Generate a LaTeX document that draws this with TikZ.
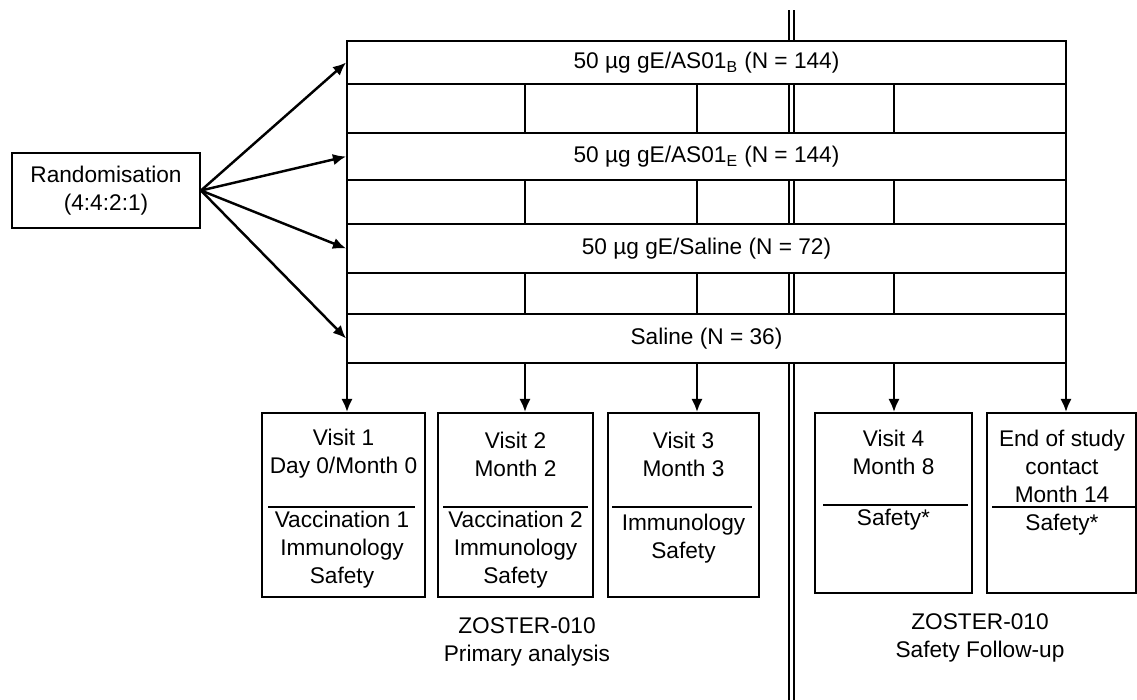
\documentclass[tikz,border=0pt]{standalone}
\usepackage{fontspec}
\setmainfont{Liberation Sans}
\usetikzlibrary{arrows.meta,positioning}

\begin{document}
\begin{tikzpicture}[x=0.02cm, y=-0.02cm, line width=1.1pt,
	every node/.style={font=\fontsize{12.9}{15.9}\selectfont, align=center, inner sep=0pt},
	armrow/.style={draw, fill=white, minimum width=14.38cm},
	visitbox/.style={draw, minimum width=#1},
	arr/.style={line width=1.4pt, -{Latex[length=7.5pt,width=6.5pt]}}]
	\useasboundingbox (0,0) rectangle (1137,700);
	% split between primary analysis and follow-up
	\draw[double, double distance=2pt, line width=1.2pt] (791.5,10) -- (791.5,700);
	\draw (347,41) rectangle (1066,363);
	% arms
	\node[armrow, minimum height=0.86cm] (arm1) at (706.5,62.5) {50 µg gE/AS01\textsubscript{B} (N = 144)};
	\node[armrow, minimum height=0.94cm] (arm2) at (706.5,156.5) {50 µg gE/AS01\textsubscript{E} (N = 144)};
	\node[armrow, minimum height=0.98cm] (arm3) at (706.5,248.5) {50 µg gE/Saline (N = 72)};
	\node[armrow, minimum height=0.98cm] (arm4) at (706.5,338.5) {Saline (N = 36)};
	\foreach \ya/\yb in {84/133,180/224,273/314}
		\foreach \x in {525,697,894}
			\draw (\x,\ya) -- (\x,\yb);
	\node[draw, minimum width=3.76cm, minimum height=1.5cm] (rand) at (106,190.5) {Randomisation\\(4:4:2:1)};
	\foreach \i in {1,...,4}
		\draw[arr] (rand.east) -- (arm\i.west);
	% visits
	\node[visitbox=3.26cm, minimum height=3.68cm] (v1) at (343.5,505) {};
	\node[visitbox=3.10cm, minimum height=3.68cm] (v2) at (515.5,505) {};
	\node[visitbox=3.02cm, minimum height=3.68cm] (v3) at (683.5,505) {};
	\node[visitbox=3.14cm, minimum height=3.60cm] (v4) at (893.5,503) {};
	\node[visitbox=2.98cm, minimum height=3.60cm] (v5) at (1061.5,503) {};
	\coordinate (g1) at (347,363);
	\coordinate (g2) at (525,363);
	\coordinate (g3) at (697,363);
	\coordinate (g4) at (894,363);
	\coordinate (g5) at (1066,363);
	\foreach \i in {1,...,5}
		\draw[arr] (g\i) -- (g\i |- v\i.north);
	\node (v1a) at (343.5,454) {Visit 1\\Day 0/Month 0};
	\node (v1b) at (342,550) {Vaccination 1\\Immunology\\Safety};
	\draw (268,507) -- (415,507);
	\node (v2a) at (515.5,454) {Visit 2\\Month 2};
	\node (v2b) at (515.5,550) {Vaccination 2\\Immunology\\Safety};
	\draw (443,507) -- (588,507);
	\node (v3a) at (683.5,454) {Visit 3\\Month 3};
	\node (v3b) at (683.5,539) {Immunology\\Safety};
	\draw (612,507) -- (752,507);
	\node (v4a) at (893.5,452) {Visit 4\\Month 8};
	\node (v4b) at (893.5,520) {Safety*};
	\draw (823,505) -- (968,505);
	\node (v5a) at (1062,466) {End of study\\contact\\Month 14};
	\node (v5b) at (1062,525) {Safety*};
	\draw (992,507) -- (1137,507);
	% study phases
	\node (prim) at (527,642) {ZOSTER-010\\Primary analysis};
	\node (fup) at (980,638) {ZOSTER-010\\Safety Follow-up};
\end{tikzpicture}
\end{document}
